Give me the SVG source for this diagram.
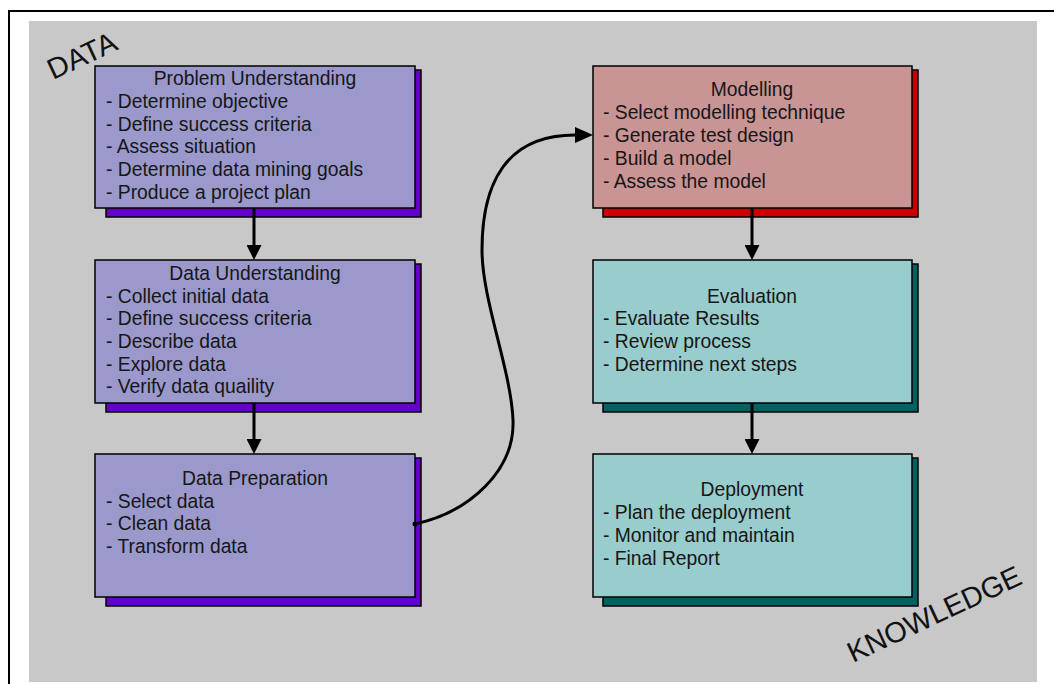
<svg xmlns="http://www.w3.org/2000/svg" width="1054" height="684" viewBox="0 0 1054 684">
  <style>
    .frame { fill: none; stroke: #000; stroke-width: 2; }
    .panel { fill: #c8c8c8; }
    .box { stroke: #000; stroke-width: 1.5; }
    .shadow { stroke: #000; stroke-width: 1.5; }
    .purple .box { fill: #9b99cb; }
    .purple .shadow { fill: #6300cc; }
    .red .box { fill: #c99494; }
    .red .shadow { fill: #cc0000; }
    .teal .box { fill: #99cccc; }
    .teal .shadow { fill: #006161; }
    text { font-family: "Liberation Sans", Arial, sans-serif; font-size: 19.3px; fill: #161616; }
    .title { text-anchor: middle; }
    .big { font-size: 29px; fill: #111; }
    .conn { fill: none; stroke: #000; stroke-width: 3; }
  </style>
  <defs>
    <marker id="head" markerUnits="userSpaceOnUse" viewBox="0 0 15 15" refX="0" refY="7.5" markerWidth="15" markerHeight="15" orient="auto">
      <path d="M0,0 L15,7.5 L0,15 Z" fill="#000"/>
    </marker>
    <marker id="headBig" markerUnits="userSpaceOnUse" viewBox="0 0 18 16" refX="0" refY="8" markerWidth="18" markerHeight="16" orient="auto">
      <path d="M0,0 L18,8 L0,16 Z" fill="#000"/>
    </marker>
  </defs>

  <!-- page frame and grey panel -->
  <path class="frame" d="M9,684 L9,11 L1054,11"/>
  <rect class="panel" x="29" y="21" width="1008" height="661"/>

  <!-- corner labels -->
  <text class="big" transform="translate(53,80) rotate(-25)">DATA</text>
  <text class="big" transform="translate(853,663) rotate(-25)">KNOWLEDGE</text>

  <g id="problem-understanding" class="purple">
    <rect class="shadow" x="106" y="70" width="315" height="147"/>
    <rect class="box" x="95" y="66" width="320" height="142"/>
    <text class="title" x="255" y="85">Problem Understanding</text>
    <text x="106" y="108">- Determine objective</text>
    <text x="106" y="131">- Define success criteria</text>
    <text x="106" y="153">- Assess situation</text>
    <text x="106" y="176">- Determine data mining goals</text>
    <text x="106" y="199">- Produce a project plan</text>
  </g>

  <g id="data-understanding" class="purple">
    <rect class="shadow" x="106" y="264" width="315" height="148"/>
    <rect class="box" x="95" y="260" width="320" height="143"/>
    <text class="title" x="255" y="280">Data Understanding</text>
    <text x="106" y="303">- Collect initial data</text>
    <text x="106" y="325">- Define success criteria</text>
    <text x="106" y="348">- Describe data</text>
    <text x="106" y="371">- Explore data</text>
    <text x="106" y="393">- Verify data quaility</text>
  </g>

  <g id="data-preparation" class="purple">
    <rect class="shadow" x="106" y="458" width="315" height="148"/>
    <rect class="box" x="95" y="454" width="320" height="143"/>
    <text class="title" x="255" y="485">Data Preparation</text>
    <text x="106" y="508">- Select data</text>
    <text x="106" y="530">- Clean data</text>
    <text x="106" y="553">- Transform data</text>
  </g>

  <g id="modelling" class="red">
    <rect class="shadow" x="603" y="70" width="315" height="147"/>
    <rect class="box" x="593" y="66" width="319" height="142"/>
    <text class="title" x="752" y="96">Modelling</text>
    <text x="603" y="119">- Select modelling technique</text>
    <text x="603" y="142">- Generate test design</text>
    <text x="603" y="165">- Build a model</text>
    <text x="603" y="188">- Assess the model</text>
  </g>

  <g id="evaluation" class="teal">
    <rect class="shadow" x="603" y="264" width="315" height="148"/>
    <rect class="box" x="593" y="260" width="319" height="143"/>
    <text class="title" x="752" y="303">Evaluation</text>
    <text x="603" y="325">- Evaluate Results</text>
    <text x="603" y="348">- Review process</text>
    <text x="603" y="371">- Determine next steps</text>
  </g>

  <g id="deployment" class="teal">
    <rect class="shadow" x="603" y="458" width="315" height="148"/>
    <rect class="box" x="593" y="454" width="319" height="143"/>
    <text class="title" x="752" y="496">Deployment</text>
    <text x="603" y="519">- Plan the deployment</text>
    <text x="603" y="542">- Monitor and maintain</text>
    <text x="603" y="565">- Final Report</text>
  </g>

  <g id="connectors">
    <line class="conn" x1="254" y1="208" x2="254" y2="245" marker-end="url(#head)"/>
    <line class="conn" x1="254" y1="403" x2="254" y2="439" marker-end="url(#head)"/>
    <line class="conn" x1="752" y1="208" x2="752" y2="245" marker-end="url(#head)"/>
    <line class="conn" x1="752" y1="403" x2="752" y2="439" marker-end="url(#head)"/>
    <path class="conn" d="M415,524 C470,512 515,470 513,420 C511,370 482,300 482,250 C482,185 505,135 575,135" marker-end="url(#headBig)"/>
    <circle cx="415" cy="524" r="2.5" fill="#000"/>
  </g>
</svg>
